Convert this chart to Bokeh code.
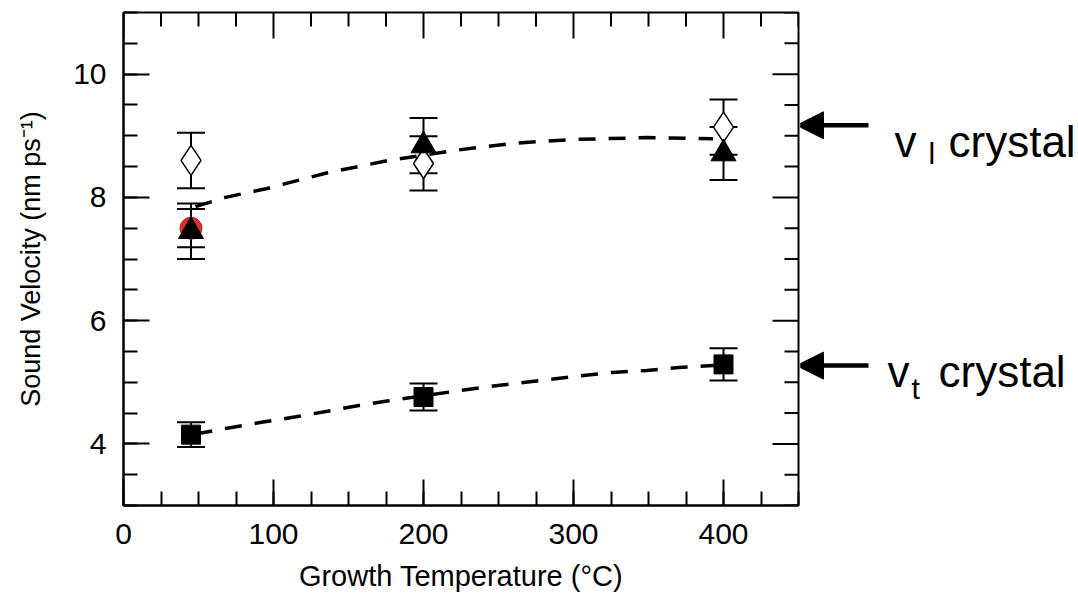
import math
from bokeh.plotting import figure
from bokeh.models import (ColumnDataSource, Whisker, TeeHead, Arrow, NormalHead, Label,
                          FixedTicker, Range1d)
from bokeh.layouts import row
from bokeh.embed import file_html
from bokeh.resources import INLINE

# ---- data ----
temps = [45, 200, 400]
vl_open = [8.60, 8.55, 9.14]
vl_open_err = [0.45, 0.44, 0.45]
vl_tri = [7.45, 8.84, 8.71]
vl_tri_err = [0.45, 0.45, 0.43]
red_t = [45]
red_v = [7.50]
red_err = [0.31]
vt_sq = [4.15, 4.76, 5.29]
vt_sq_err = [0.20, 0.22, 0.26]
fit_l_x = [48, 68, 95, 136, 177, 220, 261, 301, 349, 393]
fit_l_y = [7.85, 8.00, 8.14, 8.40, 8.60, 8.76, 8.88, 8.94, 8.97, 8.95]
fit_t_x = [48, 68, 92, 115, 136, 156, 177, 220, 241, 261, 282, 303, 326, 349, 370, 400]
fit_t_y = [4.16, 4.25, 4.35, 4.44, 4.53, 4.62, 4.70, 4.85, 4.92, 4.98, 5.04, 5.10, 5.16, 5.19, 5.24, 5.28]
x_ticks = [0, 100, 200, 300, 400]
x_minor = [25 * i for i in range(0, 19)]
y_ticks = [4, 6, 8, 10]
y_minor = [3 + 0.5 * i for i in range(0, 17)]
arrow_levels = [9.17, 5.27]   # where the two arrows point (sound velocity)

FONT = "Liberation Sans"
X0, X1 = 0, 450
Y0, Y1 = 3, 11

p = figure(width=800, height=601, x_range=Range1d(X0, X1), y_range=Range1d(Y0, Y1),
           output_backend="svg", toolbar_location=None,
           min_border_left=123, min_border_right=2, min_border_top=12, min_border_bottom=96)
p.grid.visible = False
p.outline_line_color = "black"
p.outline_line_width = 2
p.background_fill_color = "white"
p.border_fill_color = "white"

bottom = p.below[0]
left = p.left[0]
bottom.ticker = FixedTicker(ticks=x_ticks, minor_ticks=x_minor)
left.ticker = FixedTicker(ticks=y_ticks, minor_ticks=y_minor)

for ax in [bottom, left]:
    ax.axis_line_color = "black"
    ax.axis_line_width = 2
    ax.major_tick_in = 26
    ax.major_tick_out = 0
    ax.minor_tick_in = 14
    ax.minor_tick_out = 0
    ax.major_tick_line_width = 2
    ax.minor_tick_line_width = 2
    ax.major_tick_line_color = "black"
    ax.minor_tick_line_color = "black"
    ax.major_label_text_font = FONT
    ax.major_label_text_color = "black"
    ax.major_label_text_font_size = "30px"
    ax.axis_label_text_font = FONT
    ax.axis_label_text_font_style = "normal"
    ax.axis_label_text_color = "black"

bottom.axis_label = "Growth Temperature (°C)"
bottom.axis_label_text_font_size = "29px"
bottom.major_label_standoff = 18
bottom.axis_label_standoff = 13
left.axis_label = "Sound Velocity (nm ps⁻¹)"
left.axis_label_text_font_size = "27px"
left.major_label_standoff = 17
left.axis_label_standoff = 24

# mirrored inward ticks on top and right edges (half of each dash is clipped by the frame)
minor_x_only = [v for v in x_minor if v not in x_ticks]
minor_y_only = [v for v in y_minor if v not in y_ticks]
p.scatter(x_ticks, [Y1] * len(x_ticks), marker="dash", angle=math.pi / 2, size=52,
          line_color="black", line_width=2)
p.scatter(minor_x_only, [Y1] * len(minor_x_only), marker="dash", angle=math.pi / 2, size=28,
          line_color="black", line_width=2)
p.scatter([X1] * len(y_ticks), y_ticks, marker="dash", size=52,
          line_color="black", line_width=2)
p.scatter([X1] * len(minor_y_only), minor_y_only, marker="dash", size=28,
          line_color="black", line_width=2)

# ---- fit curves ----
p.line(fit_l_x, fit_l_y, line_color="black", line_width=3.5, line_dash="17 13")
p.line(fit_t_x, fit_t_y, line_color="black", line_width=3.5, line_dash="17 13")

# ---- error bars ----
def add_err(xs, ys, es):
    src = ColumnDataSource(dict(x=xs, up=[y + e for y, e in zip(ys, es)],
                                lo=[y - e for y, e in zip(ys, es)]))
    w = Whisker(source=src, base="x", upper="up", lower="lo", dimension="height",
                line_color="black", line_width=2,
                upper_head=TeeHead(size=28, line_width=2, line_color="black"),
                lower_head=TeeHead(size=28, line_width=2, line_color="black"))
    p.add_layout(w)

add_err(temps, vl_open, vl_open_err)
add_err(temps, vl_tri, vl_tri_err)
add_err(red_t, red_v, red_err)
add_err(temps, vt_sq, vt_sq_err)

# ---- markers ----
p.scatter(temps, vl_open, marker="diamond", size=30, fill_color="white",
          line_color="black", line_width=1.5)
p.scatter(red_t, red_v, marker="circle", size=22, fill_color="#d01c1c",
          line_color="#d01c1c", fill_alpha=0.9)
p.scatter(temps, vl_tri, marker="triangle", size=25, fill_color="black", line_color="black")
p.scatter(temps, vt_sq, marker="square", size=19, fill_color="black", line_color="black")

# ---- side panel with the annotations (frame aligned with the main plot) ----
side = figure(width=278, height=601, x_range=Range1d(0, 278), y_range=Range1d(Y0, Y1),
              output_backend="svg", toolbar_location=None,
              x_axis_type=None, y_axis_type=None,
              min_border_left=0, min_border_right=0, min_border_top=12, min_border_bottom=96)
side.grid.visible = False
side.outline_line_color = None
side.background_fill_color = "white"
side.border_fill_color = "white"

for yv in arrow_levels:
    side.add_layout(Arrow(x_start=68, y_start=yv, x_end=-4, y_end=yv,
                          line_color="black", line_width=4.5,
                          end=NormalHead(size=27, fill_color="black", line_color="black")))

def lab(x, y, t, size):
    side.add_layout(Label(x=x, y=y, text=t, text_font=FONT, text_font_size=size,
                          text_color="black", text_baseline="alphabetic", text_align="left"))

lab(94, 8.907, "v", "44px")
lab(128, 8.712, "l", "30px")
lab(148, 8.907, "crystal", "44px")
lab(87, 5.174, "v", "44px")
lab(111, 4.899, "t", "30px")
lab(138, 5.174, "crystal", "44px")

layout = row(p, side, spacing=0)
open("out.html", "w").write(file_html(layout, INLINE))
